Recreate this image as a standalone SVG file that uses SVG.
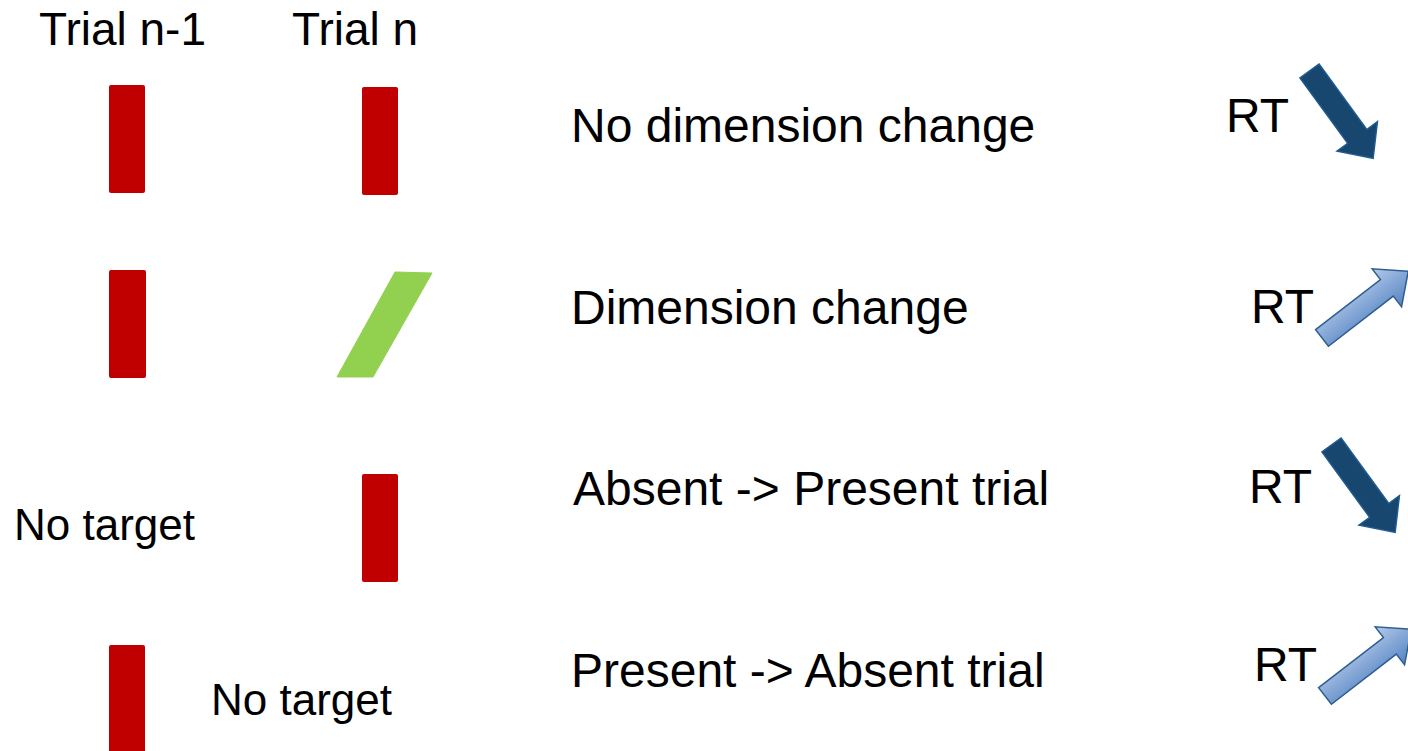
<svg xmlns="http://www.w3.org/2000/svg" width="1408" height="751" viewBox="0 0 1408 751">
  <style>
    .t { font-family: "Liberation Sans", Arial, sans-serif; fill: #000; }
    .main { font-size: 48px; }
    .trial { font-size: 46px; }
    .nt { font-size: 44px; }
    .bar { fill: #c00000; }
    .dark { fill: #17466e; stroke: #1f5b91; stroke-width: 1.5; stroke-linejoin: miter; }
    .light { fill: url(#lg); stroke: #2e5d8e; stroke-width: 1.5; stroke-linejoin: miter; }
  </style>
  <defs>
    <linearGradient id="lg" x1="0" y1="0" x2="0" y2="1">
      <stop offset="0" stop-color="#b3c9ea"/>
      <stop offset="1" stop-color="#5584c2"/>
    </linearGradient>
  </defs>
  <rect width="1408" height="751" fill="#fff"/>

  <g id="headers">
    <text class="t trial" x="39" y="45">Trial n-1</text>
    <text class="t trial" x="292" y="45">Trial n</text>
  </g>

  <g id="row1">
    <rect class="bar" x="109" y="85" width="36" height="108" rx="2"/>
    <rect class="bar" x="362" y="87" width="36" height="108" rx="2"/>
    <text class="t main" x="571" y="142">No dimension change</text>
    <text class="t main" x="1226" y="132">RT</text>
    <path class="dark" transform="translate(1309.5,71) rotate(53.9)" d="M0,-11.8 L81,-11.8 L81,-25 L108,0 L81,25 L81,11.8 L0,11.8 Z"/>
  </g>

  <g id="row2">
    <rect class="bar" x="109" y="270" width="37" height="108" rx="2"/>
    <path fill="#92d050" stroke="#92d050" stroke-width="1" stroke-linejoin="round" d="M395,272 L432,273 L373,377 L337,377 Z"/>
    <text class="t main" x="571" y="324">Dimension change</text>
    <text class="t main" x="1251" y="323">RT</text>
    <path class="light" transform="translate(1322,338) rotate(-37.7)" d="M0,-10.5 L82,-10.5 L82,-24 L109,0 L82,24 L82,10.5 L0,10.5 Z"/>
  </g>

  <g id="row3">
    <text class="t nt" x="14" y="540">No target</text>
    <rect class="bar" x="362" y="474" width="36" height="108" rx="2"/>
    <text class="t main" x="573" y="505">Absent -&gt; Present trial</text>
    <text class="t main" x="1249" y="503">RT</text>
    <path class="dark" transform="translate(1331.5,445) rotate(53.9)" d="M0,-11.8 L81,-11.8 L81,-25 L108,0 L81,25 L81,11.8 L0,11.8 Z"/>
  </g>

  <g id="row4">
    <rect class="bar" x="109" y="645" width="36" height="120" rx="2"/>
    <text class="t nt" x="211" y="715">No target</text>
    <text class="t main" x="571" y="687">Present -&gt; Absent trial</text>
    <text class="t main" x="1254" y="681">RT</text>
    <path class="light" transform="translate(1325,696) rotate(-37.7)" d="M0,-10.5 L82,-10.5 L82,-24 L109,0 L82,24 L82,10.5 L0,10.5 Z"/>
  </g>
</svg>
